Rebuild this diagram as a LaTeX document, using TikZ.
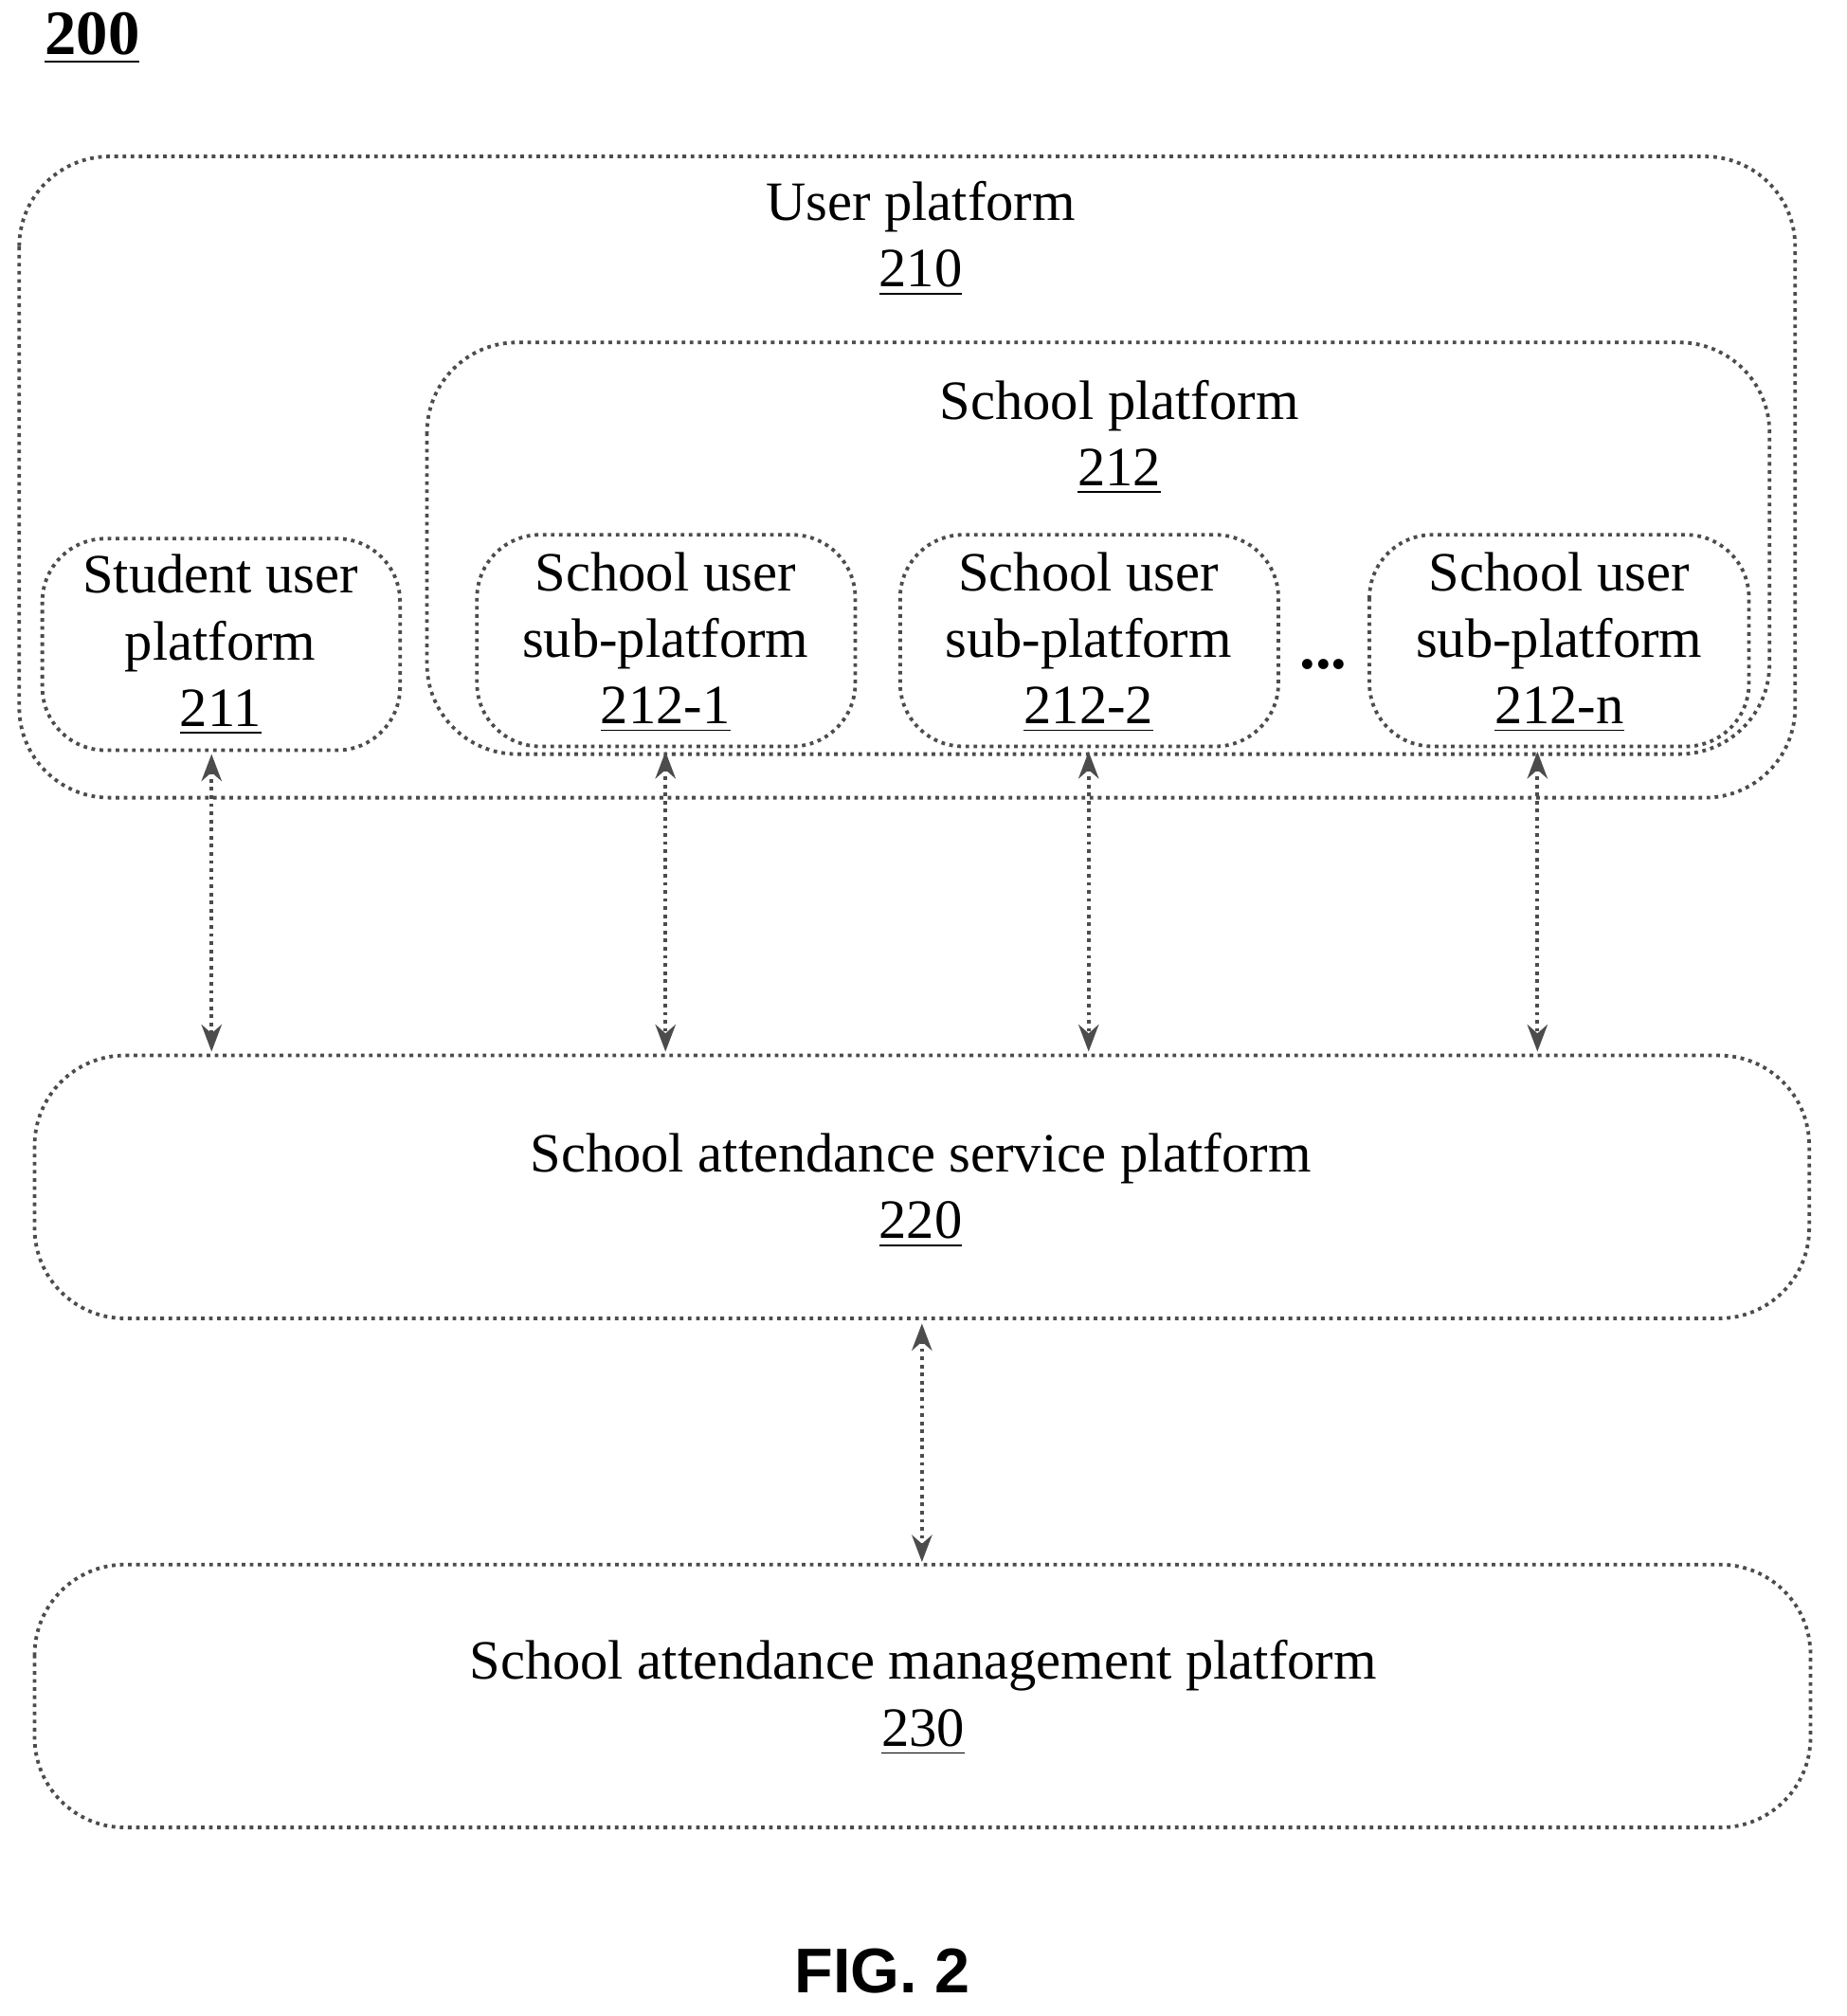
\documentclass[tikz,border=0pt]{standalone}
\usepackage{fontspec}
\setmainfont{Liberation Serif}
\setsansfont{Liberation Sans}
\usetikzlibrary{arrows.meta}
\newcommand{\refnum}[1]{\underline{#1}}
\begin{document}
\begin{tikzpicture}[x=0.01cm,y=-0.01cm,
  box/.style={draw=black!70, densely dotted, thick, rounded corners=20pt},
  lbl/.style={align=center, font=\fontsize{12.3}{14.8}\selectfont},
  link/.style={{Stealth[length=6pt]}-{Stealth[length=6pt]}, densely dotted, thick, draw=black!70}]
  \useasboundingbox (0,0) rectangle (1440,1572);
  \node[font=\bfseries\fontsize{14}{16}\selectfont] (fignum) at (72,30) {\refnum{200}};
  % outer platforms
  \draw[box] (15,122) rectangle (1400,622);
  \node[lbl] (up) at (718,186) {User platform\\\refnum{210}};
  \draw[box] (333,267) rectangle (1380,588);
  \node[lbl] (sp) at (873,341) {School platform\\\refnum{212}};
  % sub-platforms
  \draw[box, rounded corners=14pt] (33,420) rectangle (312,585);
  \node[lbl] (s211) at (172,503) {Student user\\platform\\\refnum{211}};
  \draw[box, rounded corners=14pt] (372,417) rectangle (667,582);
  \node[lbl] (s1) at (519,501) {School user\\sub-platform\\\refnum{212-1}};
  \draw[box, rounded corners=14pt] (702,417) rectangle (997,582);
  \node[lbl] (s2) at (849,501) {School user\\sub-platform\\\refnum{212-2}};
  \draw[box, rounded corners=14pt] (1068,417) rectangle (1364,582);
  \node[lbl] (sn) at (1216,501) {School user\\sub-platform\\\refnum{212-n}};
  \node[font=\bfseries\fontsize{14}{16}\selectfont] (dots) at (1032,518) {...};
  % lower platforms
  \draw[box] (27,823) rectangle (1411,1028);
  \node[lbl] (serv) at (718,928) {School attendance service platform\\\refnum{220}};
  \draw[box] (27,1220) rectangle (1412,1425);
  \node[lbl] (mgmt) at (720,1324) {School attendance management platform\\\refnum{230}};
  % connectors
  \coordinate (a1) at (165,588); \coordinate (b1) at (165,820);
  \coordinate (a2) at (519,586); \coordinate (b2) at (519,820);
  \coordinate (a3) at (849,586); \coordinate (b3) at (849,820);
  \coordinate (a4) at (1199,586); \coordinate (b4) at (1199,820);
  \coordinate (a5) at (719,1032); \coordinate (b5) at (719,1218);
  \foreach \i in {1,...,5}
    \draw[link] (a\i) -- (b\i);
  \node[font=\sffamily\bfseries\fontsize{14}{16}\selectfont] (cap) at (688,1537) {FIG. 2};
\end{tikzpicture}
\end{document}
